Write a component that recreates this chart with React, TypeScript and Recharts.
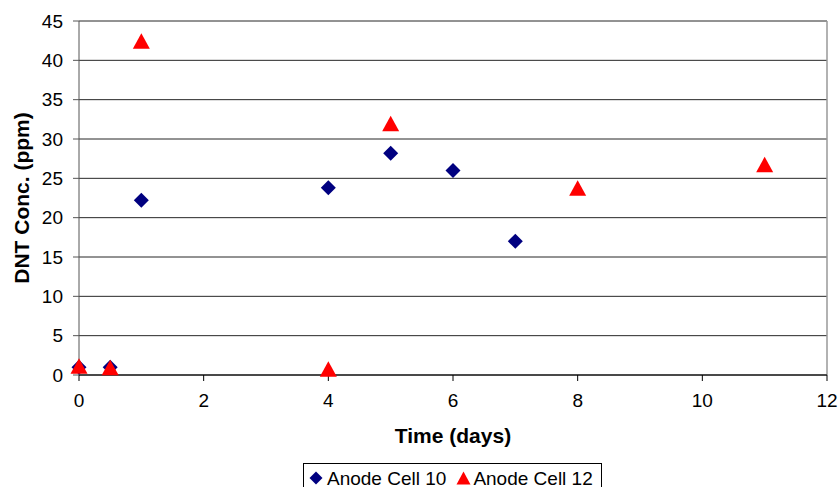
import { CartesianGrid, ReferenceLine, Scatter, ScatterChart, XAxis, YAxis } from "recharts";

const cell10Days = [0, 0.5, 1, 4, 5, 6, 7];
const cell10Conc = [1.0, 1.0, 22.2, 23.8, 28.2, 26.0, 17.0];
const cell12Days = [0, 0.5, 1, 4, 5, 8, 11];
const cell12Conc = [1.0, 0.8, 42.3, 0.6, 31.8, 23.6, 26.6];
const xTicks = [0, 2, 4, 6, 8, 10, 12];
const yTicks = [0, 5, 10, 15, 20, 25, 30, 35, 40, 45];

const cell10 = cell10Days.map((day, i) => ({ day, conc: cell10Conc[i] }));
const cell12 = cell12Days.map((day, i) => ({ day, conc: cell12Conc[i] }));

const font = "'Liberation Sans', Arial, sans-serif";

function Diamond(props: any) {
  const { cx, cy } = props;
  const r = 7.5;
  return <polygon points={`${cx},${cy - r} ${cx + r},${cy} ${cx},${cy + r} ${cx - r},${cy}`} fill="#000080" />;
}

function Triangle(props: any) {
  const { cx, cy } = props;
  return <polygon points={`${cx},${cy - 9} ${cx + 8.5},${cy + 6.5} ${cx - 8.5},${cy + 6.5}`} fill="#ff0000" />;
}

function YLabel(props: any) {
  const vb = props.viewBox;
  const x = vb.x + 21;
  const y = vb.y + vb.height / 2;
  return (
    <text
      x={x}
      y={y}
      transform={`rotate(-90 ${x} ${y})`}
      textAnchor="middle"
      dominantBaseline="central"
      fill="#000"
      fontSize={21}
      fontWeight="bold"
      fontFamily={font}
    >
      DNT Conc. (ppm)
    </text>
  );
}

export default function App() {
  return (
    <div style={{ position: "absolute", left: 0, top: 0, width: 840, height: 487, background: "#fff", fontFamily: font, overflow: "hidden" }}>
      <ScatterChart width={840} height={487} margin={{ top: 21, right: 13, left: 0, bottom: 0 }}>
        <CartesianGrid horizontal vertical={false} stroke="#000" strokeOpacity={0.85} />
        <XAxis
          type="number"
          dataKey="day"
          domain={[0, 12]}
          ticks={xTicks}
          height={112}
          stroke="#000"
          tickSize={6}
          tickMargin={13}
          tick={{ fill: "#000", fontSize: 19, fontFamily: font }}
          label={{ value: "Time (days)", position: "insideTop", offset: 53, fill: "#000", fontSize: 21, fontWeight: "bold", fontFamily: font }}
        />
        <YAxis
          type="number"
          dataKey="conc"
          domain={[0, 45]}
          ticks={yTicks}
          width={79}
          stroke="#555"
          tickSize={6}
          tickMargin={10}
          tick={{ fill: "#000", fontSize: 19, fontFamily: font }}
          label={<YLabel />}
        />
        <ReferenceLine x={12} stroke="#999" strokeWidth={1.5} />
        <Scatter name="Anode Cell 10" data={cell10} shape={<Diamond />} isAnimationActive={false} />
        <Scatter name="Anode Cell 12" data={cell12} shape={<Triangle />} isAnimationActive={false} />
      </ScatterChart>
      <div
        style={{
          position: "absolute",
          left: 303,
          top: 463,
          width: 299,
          height: 30,
          border: "1px solid #000",
          boxSizing: "border-box",
          display: "flex",
          alignItems: "center",
          paddingLeft: 5,
          fontSize: 19,
          lineHeight: 1,
          color: "#000",
          whiteSpace: "nowrap",
        }}
      >
        <svg width={14} height={14} style={{ marginRight: 4 }}>
          <polygon points="7,0.5 13.5,7 7,13.5 0.5,7" fill="#000080" />
        </svg>
        <span style={{ marginRight: 10 }}>Anode Cell 10</span>
        <svg width={15} height={14} style={{ marginRight: 2 }}>
          <polygon points="7.5,0.5 14.5,13.5 0.5,13.5" fill="#ff0000" />
        </svg>
        <span>Anode Cell 12</span>
      </div>
    </div>
  );
}
